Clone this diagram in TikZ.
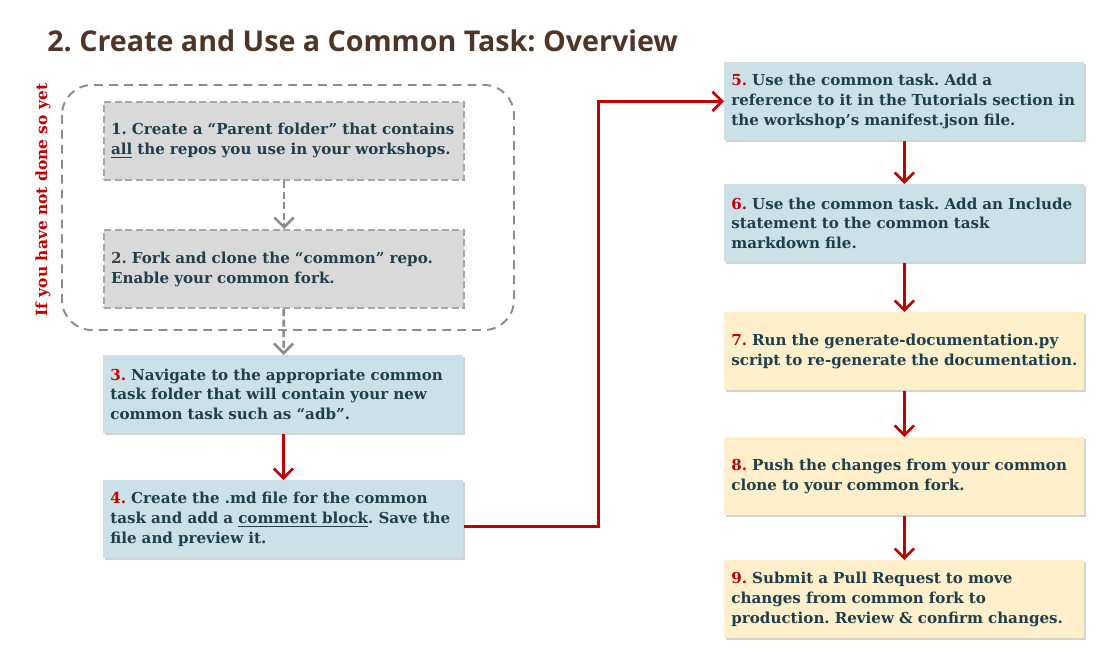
\documentclass[tikz,border=0pt]{standalone}
\usepackage{fontspec}
\setmainfont{DejaVu Serif}
\newfontfamily\titlefont{Open Sans}
\usetikzlibrary{arrows.meta,shadows,positioning}
\definecolor{tasktext}{HTML}{1F3F4D}
\definecolor{numred}{HTML}{C00000}
\definecolor{titlebrown}{HTML}{4D3627}
\definecolor{taskblue}{HTML}{CCE1E7}
\definecolor{taskyellow}{HTML}{FFF0CB}
\definecolor{taskgray}{HTML}{D9D9D9}
\definecolor{dashgray}{HTML}{A6A6A6}
\definecolor{framegray}{HTML}{8C8C8C}
\newcommand{\stepno}[1]{\textcolor{numred}{#1}}
\frenchspacing
\begin{document}
\begin{tikzpicture}[x=0.02cm, y=-0.02cm,
    box/.style={anchor=north west, text width=6.92cm, inner xsep=0.14cm, minimum height=1.56cm,
        align=left, text=tasktext, font=\bfseries\fontsize{8.6}{11.3}\selectfont},
    bluebox/.style={box, fill=taskblue, drop shadow={shadow xshift=1pt, shadow yshift=-1pt, opacity=0.35}},
    yellowbox/.style={box, fill=taskyellow, drop shadow={shadow xshift=1pt, shadow yshift=-1pt, opacity=0.35}},
    graybox/.style={box, fill=taskgray, draw=dashgray, line width=1.2pt, dash pattern=on 4pt off 2pt},
    redarrow/.style={numred, line width=1.5pt, -{Straight Barb[length=5.5pt, width=11pt]}},
    grayarrow/.style={framegray, line width=1.5pt, dash pattern=on 4pt off 2pt, -{Straight Barb[length=5.5pt, width=11pt]}}]
    \useasboundingbox (0,0) rectangle (1118,652);

    % Title
    \node[anchor=base west, inner sep=0, text=titlebrown, font=\titlefont\bfseries\fontsize{16.3}{20}\selectfont] (title) at (47,52) {2. Create and Use a Common Task: Overview};

    % Optional steps inside the dashed frame
    \draw[framegray, line width=1.1pt, dash pattern=on 5pt off 3.5pt, rounded corners=0.6cm] (62,85) rectangle (514,330);
    \node[rotate=90, text=numred, inner sep=0, font=\bfseries\fontsize{8.8}{11}\selectfont] (notyet) at (43,200) {If you have not done so yet};

    \node[graybox] (task1) at (103,101) {1. Create a “Parent folder” that contains\\ \underline{all} the repos you use in your workshops.};
    \node[graybox] (task2) at (103,229) {\textcolor{darkgray}{2.} Fork and clone the “common” repo.\\ Enable your common fork.};

    % Left column
    \node[bluebox] (task3) at (103,355) {\stepno{3.} Navigate to the appropriate common\\ task folder that will contain your new\\ common task such as “adb”.};
    \node[bluebox] (task4) at (103,480) {\stepno{4.} Create the .md file for the common\\ task and add a \underline{comment block}. Save the\\ file and preview it.};

    % Right column
    \node[bluebox] (task5) at (724,62) {\stepno{5.} Use the common task. Add a\\ reference to it in the Tutorials section in\\ the workshop’s manifest.json file.};
    \node[bluebox] (task6) at (724,184) {\stepno{6.} Use the common task. Add an Include\\ statement to the common task\\ markdown file.};
    \node[yellowbox] (task7) at (724,312) {\stepno{7.} Run the generate-documentation.py\\ script to re-generate the documentation.};
    \node[yellowbox] (task8) at (724,437) {\stepno{8.} Push the changes from your common\\ clone to your common fork.};
    \node[yellowbox] (task9) at (724,560) {\stepno{9.} Submit a Pull Request to move\\ changes from common fork to\\ production. Review \& confirm changes.};

    % Connectors
    \draw[grayarrow] (task1) -- (task2);
    \draw[grayarrow] (task2) -- (task3);
    \draw[redarrow] (task3) -- (task4);
    \draw[redarrow] ([yshift=-7*0.02cm]task4.east) -- ++(135,0) |- (task5.west);
    \foreach \a/\b in {5/6, 6/7, 7/8, 8/9}
        \draw[redarrow] (task\a) -- (task\b);
\end{tikzpicture}
\end{document}
